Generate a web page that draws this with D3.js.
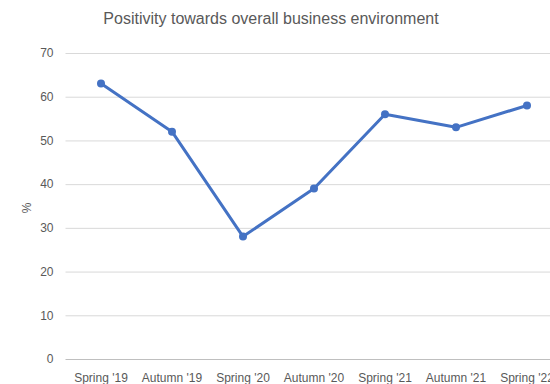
<!DOCTYPE html>
<html>
<head>
<meta charset="utf-8">
<script src="https://cdn.jsdelivr.net/npm/d3@7"></script>
<style>
  body { margin: 0; background: #fff; }
  svg { display: block; font-family: "Liberation Sans", Arial, sans-serif; }
</style>
</head>
<body>
<svg id="chart" width="550" height="384"></svg>
<script>
// chart data
const periods = ["Spring '19", "Autumn '19", "Spring '20", "Autumn '20", "Spring '21", "Autumn '21", "Spring '22"];
const positivity = [63, 52, 28, 39, 56, 53, 58];
const yTicks = [0, 10, 20, 30, 40, 50, 60, 70];

const svg = d3.select("#chart");
const margin = { top: 53, left: 65.5, bottom: 25 };
const height = 384 - margin.top - margin.bottom;

// x axis runs past the right edge, like the cropped original
const x = d3.scaleBand().domain(periods).range([margin.left, margin.left + 7 * 71]);
const y = d3.scaleLinear().domain([0, 70]).range([margin.top + height, margin.top]);

// title
svg.append("text")
  .attr("x", 271).attr("y", 24)
  .attr("text-anchor", "middle")
  .attr("fill", "#595959")
  .style("font-size", "16px")
  .text("Positivity towards overall business environment");

// gridlines + y labels
const yAxis = svg.append("g")
  .attr("transform", "translate(" + margin.left + ",0)")
  .call(d3.axisLeft(y).tickValues(yTicks).tickSize(-600).tickPadding(12));
yAxis.select(".domain").remove();
yAxis.selectAll("line").attr("stroke", d => d === 0 ? "#bfbfbf" : "#d9d9d9");
yAxis.selectAll("text").attr("fill", "#595959").style("font-size", "12px");

// y title
svg.append("text")
  .attr("transform", "translate(31,208)rotate(-90)")
  .attr("text-anchor", "middle")
  .attr("fill", "#595959")
  .style("font-size", "12px")
  .text("%");

// x labels
const xAxis = svg.append("g")
  .attr("transform", "translate(0," + (margin.top + height) + ")")
  .call(d3.axisBottom(x).tickSize(0).tickPadding(14));
xAxis.select(".domain").remove();
xAxis.selectAll("text").attr("fill", "#595959").style("font-size", "12px");

const cx = d => x(d) + x.bandwidth() / 2;

// line
svg.append("path")
  .datum(positivity)
  .attr("fill", "none")
  .attr("stroke", "#4472C4")
  .attr("stroke-width", 3)
  .attr("stroke-linejoin", "round")
  .attr("d", d3.line().x((d, i) => cx(periods[i])).y(d => y(d)));

// markers
svg.selectAll("circle.pt")
  .data(positivity)
  .enter()
  .append("circle")
  .attr("class", "pt")
  .attr("cx", (d, i) => cx(periods[i]))
  .attr("cy", d => y(d))
  .attr("r", 4)
  .attr("fill", "#4472C4");
</script>
</body>
</html>
